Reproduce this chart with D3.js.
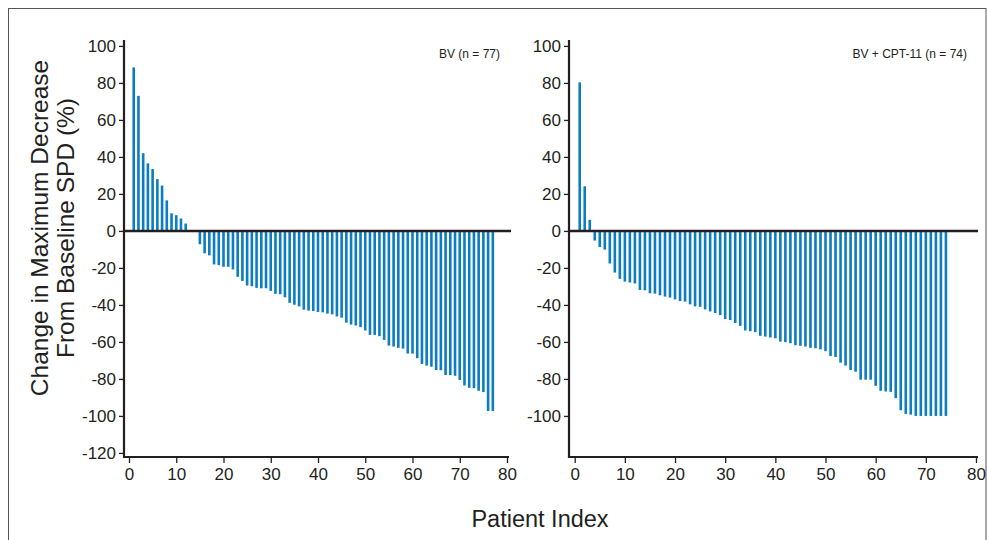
<!DOCTYPE html>
<html>
<head>
<meta charset="utf-8">
<script src="https://cdn.jsdelivr.net/npm/d3@7"></script>
<style>
  body { margin: 0; background: white; }
  svg { display: block; }
</style>
</head>
<body>
<div id="chart"></div>
<script>
// Waterfall plot data (change in max decrease from baseline SPD, %)

const bvChange = [88.4, 73, 42, 36.5, 33.5, 28, 24.5, 16.5, 9.5, 8.5, 6.7, 4, 0, 0,
  -7.2, -12.1, -13.2, -18.1, -18.5, -19.4, -19.4, -20.8, -24.8, -27, -29.5, -29.9,
  -30.8, -31, -31, -32.4, -34, -34.2, -35.9, -38.9, -39.9, -40.8, -42.6, -43.1,
  -43.3, -43.8, -44, -44.7, -45.1, -46.2, -46.9, -49.6, -50.6, -51.1, -52, -53.8,
  -56.2, -56.2, -56.9, -58.9, -62, -62.5, -63.2, -63.6, -66.3, -66.3, -68.8, -71.9,
  -72.8, -73.4, -75.2, -75.3, -77.9, -77.9, -78.3, -80.6, -83.5, -84.8, -85, -86.4,
  -87.1, -97.3, -97.3]

const bvCptChange = [80.3, 24.1, 6, -5.2, -8.7, -10.1, -17.6, -22.5, -25.9, -27.4,
  -27.9, -28.4, -31.9, -32.1, -33.7, -33.9, -34.8, -35.5, -36, -37, -37.9, -38.2,
  -39.7, -40.8, -41, -42.4, -43.5, -44.4, -45.5, -47.6, -48.2, -49.8, -51.3, -53.8,
  -54.2, -54.7, -56.7, -57.1, -57.6, -58, -59.8, -60.1, -60.7, -61.8, -62.1, -62.5,
  -63.2, -63.4, -64, -65, -67.6, -68.1, -71.2, -72.8, -75.2, -76.1, -80.4, -80.4,
  -80.4, -83.7, -86.4, -86.8, -87, -90.4, -96.9, -98.9, -99.3, -100, -100, -100,
  -100, -100, -100, -100]

const panelTitles = ["BV (n = 77)", "BV + CPT-11 (n = 74)"]
const xTicks = [0, 10, 20, 30, 40, 50, 60, 70, 80]
const yTicksLeft = [100, 80, 60, 40, 20, 0, -20, -40, -60, -80, -100, -120]
const yTicksRight = [100, 80, 60, 40, 20, 0, -20, -40, -60, -80, -100]

const width = 987
const height = 540
const ink = "#231f20"
const barColor = "#0b7dc0"
const font = "'Liberation Sans', Arial, sans-serif"

let svg = d3.select('#chart')
  .append('svg')
  .attr('width', width)
  .attr('height', height)
  .style('background-color', 'white')

// outer frame
svg.append("rect")
  .attr("x", 8.5)
  .attr("y", 8.5)
  .attr("width", 977.5)
  .attr("height", 600)
  .style("fill", "none")
  .style("stroke", "#555")
  .style("stroke-width", 1)

// shared y scale (both panels use the same vertical extent)
const y = d3.scaleLinear().domain([-122.2, 103.2]).range([457, 40])

function panel(values, title, yTicks, axisX, x0px, x80px, lineEnd) {
  const x = d3.scaleLinear().domain([0, 80]).range([x0px, x80px])
  const g = svg.append("g")

  // bars
  g.selectAll("rect.bar")
    .data(values)
    .enter()
    .append("rect")
    .attr("class", "bar")
    .attr("x", (d, i) => x(i + 1) - 1.3)
    .attr("width", 2.6)
    .attr("y", d => d >= 0 ? y(d) : y(0))
    .attr("height", d => Math.abs(y(d) - y(0)))
    .style("fill", barColor)

  // y axis (plain hyphen for negatives, like the original)
  const yAxis = g.append("g")
    .attr("transform", `translate(${axisX},0)`)
    .call(d3.axisLeft(y).tickValues(yTicks).tickSize(5).tickPadding(3).tickFormat(d => String(d)))
  yAxis.select(".domain").remove()
  yAxis.selectAll(".tick line").style("stroke", ink).style("stroke-width", 1.3)
  yAxis.selectAll(".tick text")
    .style("font-family", font)
    .style("font-size", "17px")
    .style("fill", ink)

  g.append("line")
    .attr("x1", axisX).attr("x2", axisX)
    .attr("y1", 40).attr("y2", 458)
    .style("stroke", ink)
    .style("stroke-width", 2.2)

  // x axis
  const xAxis = g.append("g")
    .attr("transform", "translate(0,457)")
    .call(d3.axisBottom(x).tickValues(xTicks).tickSize(6).tickPadding(5))
  xAxis.select(".domain").remove()
  xAxis.selectAll(".tick line").style("stroke", ink).style("stroke-width", 1.3)
  xAxis.selectAll(".tick text")
    .style("font-family", font)
    .style("font-size", "17px")
    .style("fill", ink)

  g.append("line")
    .attr("x1", axisX - 1).attr("x2", x80px + 2)
    .attr("y1", 457).attr("y2", 457)
    .style("stroke", ink)
    .style("stroke-width", 2.2)

  // zero line
  g.append("line")
    .attr("x1", axisX).attr("x2", lineEnd)
    .attr("y1", y(0)).attr("y2", y(0))
    .style("stroke", ink)
    .style("stroke-width", 2.5)

  // panel title
  g.append("text")
    .attr("x", lineEnd - 11)
    .attr("y", 58)
    .text(title)
    .style("font-family", font)
    .style("font-size", "12px")
    .style("fill", ink)
    .style("text-anchor", "end")
}

panel(bvChange, panelTitles[0], yTicksLeft, 124, 129, 507, 511)
panel(bvCptChange, panelTitles[1], yTicksRight, 569, 574.7, 976, 978)

// y axis title (two lines)
const yTitle = svg.append("text")
  .attr("transform", "translate(48,228) rotate(-90)")
  .style("font-family", font)
  .style("font-size", "24.5px")
  .style("fill", ink)
  .style("text-anchor", "middle")
yTitle.append("tspan").attr("x", 0).attr("dy", 0).text("Change in Maximum Decrease")
yTitle.append("tspan").attr("x", 0).attr("dy", 26).text("From Baseline SPD (%)")

// x axis title
svg.append("text")
  .attr("x", 540)
  .attr("y", 527)
  .text("Patient Index")
  .style("font-family", font)
  .style("font-size", "23.5px")
  .style("fill", ink)
  .style("text-anchor", "middle")
</script>
</body>
</html>
